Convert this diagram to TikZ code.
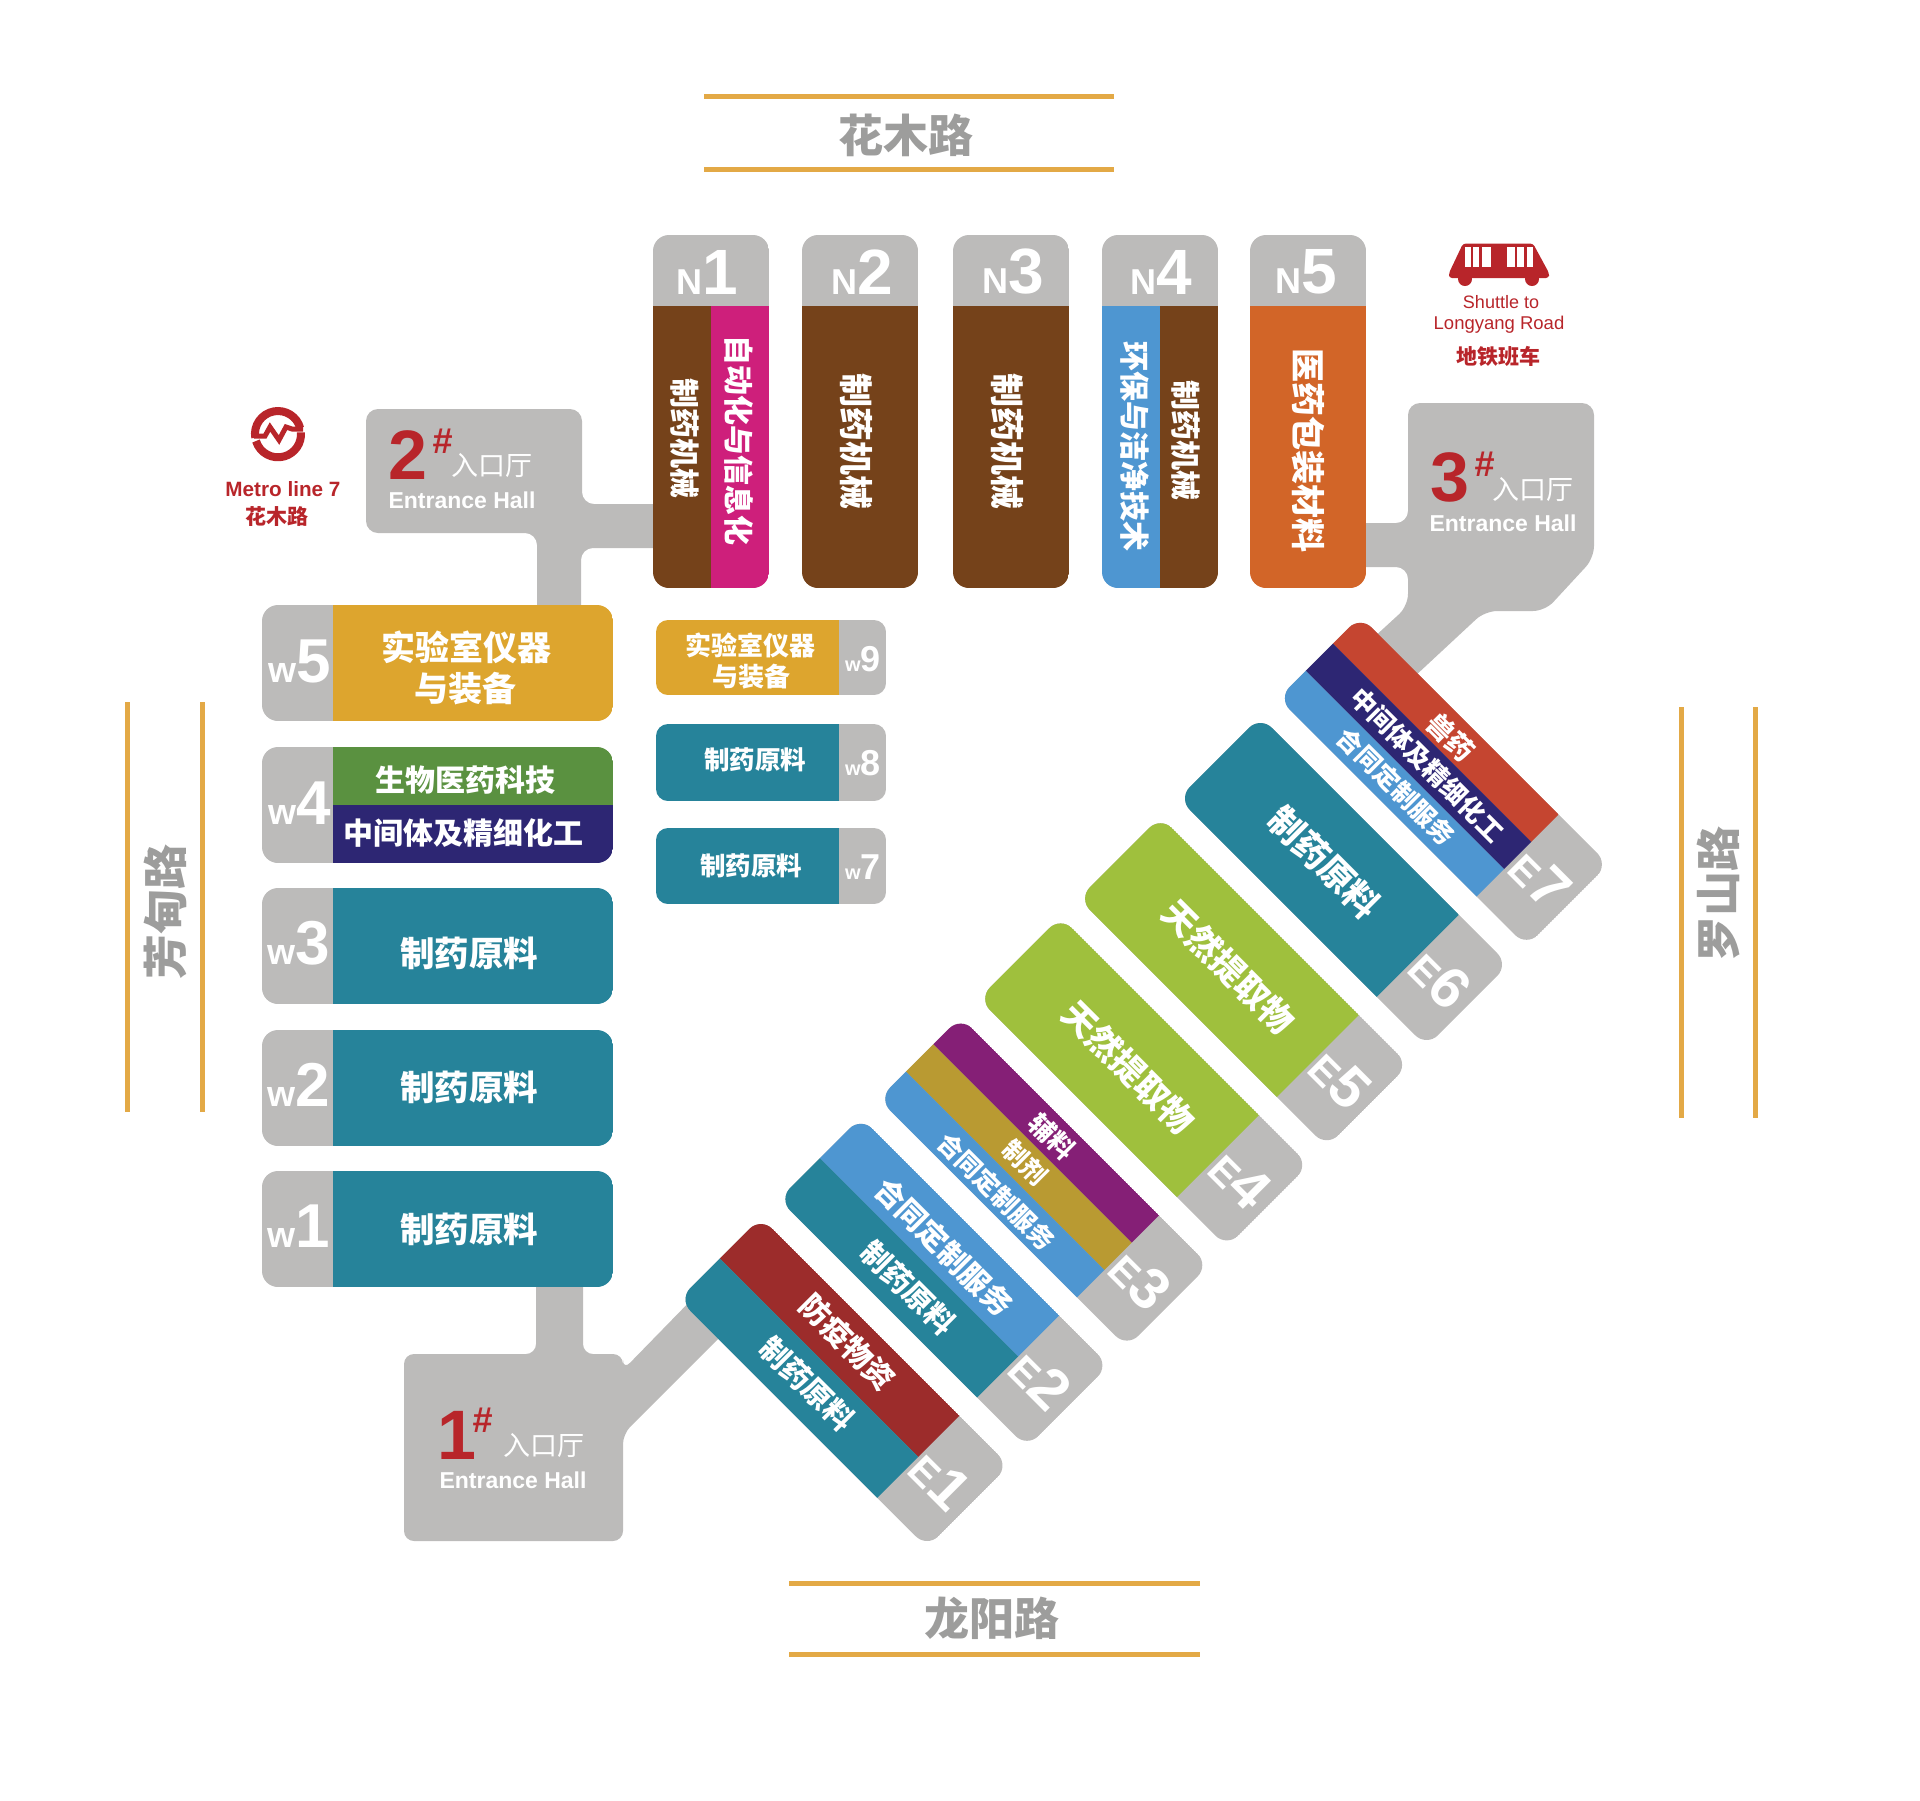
\documentclass[tikz,border=0pt]{standalone}
\usepackage{fontspec}
\setmainfont{Liberation Sans}
\newfontfamily\cjk{Noto Sans CJK SC}
\usepackage{xcolor}
\usepackage{tikz}
\definecolor{hallgrey}{HTML}{BCBBBA}
\definecolor{tealc}{HTML}{26839A}
\definecolor{brownc}{HTML}{75421A}
\definecolor{magentac}{HTML}{CE1F7B}
\definecolor{bluec}{HTML}{4E96D1}
\definecolor{orangec}{HTML}{D26528}
\definecolor{goldc}{HTML}{DDA52E}
\definecolor{greenc}{HTML}{5A9140}
\definecolor{navyc}{HTML}{2D2673}
\definecolor{limec}{HTML}{9FC03D}
\definecolor{darkredc}{HTML}{9C2C2B}
\definecolor{brickc}{HTML}{C54530}
\definecolor{purplec}{HTML}{851F76}
\definecolor{olivec}{HTML}{B99A32}
\definecolor{redc}{HTML}{B8252A}
\definecolor{roadc}{HTML}{E3A946}
\definecolor{roadtext}{HTML}{9D9D9C}
\newcommand{\fsz}[1]{\fontsize{#1}{#1}\selectfont}
\newcommand{\tagtext}[4]{{\fsz{#1}#3}{\fsz{#2}#4}}
\newcommand{\eclip}{\clip[rounded corners=16] (-175.5,-58) rectangle (175.5,58);
	\fill[hallgrey] (-175.5,-58) rectangle (175.5,58);}
\tikzset{
	cn/.style={text=white,inner sep=0pt,font=\cjk\bfseries\fsz{#1}},
	cnN/.style={cn=#1,rotate=-90},
	cnE/.style={cn=#1,rotate=-45},
	grouptag/.style={text=white,inner sep=0pt,font=\bfseries},
	etag/.style={grouptag,rotate=-45},
	roadline/.style={roadc,line width=5pt},
	roadname/.style={text=roadtext,inner sep=0pt,font=\cjk\bfseries\fsz{45}},
	halldigit/.style={text=redc,inner sep=0pt,font=\bfseries\fsz{70}},
	hallmark/.style={text=redc,inner sep=0pt,font=\bfseries\itshape\fsz{36}},
	hallcn/.style={text=white,inner sep=0pt,font=\cjk\fsz{27}},
	hallen/.style={text=white,inner sep=0pt,font=\bfseries\fsz{23}},
	redtext/.style={text=redc,inner sep=0pt},
	eblock/.style={shift={({844+99.9*(#1-1)},{1382.5-100.2*(#1-1)})},rotate=-45},
}
\begin{document}
\begin{tikzpicture}[x=1pt,y=-1pt]
	\useasboundingbox (0,0) rectangle (1920,1800);
	% roads
	\draw[roadline] (704,96) -- (1114,96);
	\draw[roadline] (704,169) -- (1114,169);
	\node[roadname] (road north) at (906,135) {花木路};
	\draw[roadline] (789,1583) -- (1200,1583);
	\draw[roadline] (789,1654) -- (1200,1654);
	\node[roadname] (road south) at (992,1618) {龙阳路};
	\draw[roadline] (127,702) -- (127,1112);
	\draw[roadline] (202,702) -- (202,1112);
	\node[roadname,rotate=90] (road west) at (165,912) {芳甸路};
	\draw[roadline] (1681,707) -- (1681,1118);
	\draw[roadline] (1755,707) -- (1755,1118);
	\node[roadname,rotate=90] (road east) at (1718,894) {罗山路};
	% halls
	\fill[hallgrey,rounded corners=12] (366,470) -- (366,409) -- (582,409) -- (582,504) -- (670,504) -- (670,548) -- (581,548) -- (581,625) -- (537,625) -- (537,533) -- (366,533) -- cycle;
	\fill[hallgrey,rounded corners=12] (1345,523) -- (1408,523) -- (1408,403) -- (1594,403) -- (1594,558) -- (1545,611) -- (1485,611) -- (1400,690) -- (1360,650) -- (1408,606) -- (1408,567) -- (1345,567) -- cycle;
	\fill[hallgrey,rounded corners=10] (536,1270) -- (536,1354) -- (404,1354) -- (404,1541) -- (623,1541) -- (623,1434) -- (735,1322) -- (700,1291) -- (623,1370) -- (623,1354) -- (583,1354) -- (583,1270) -- cycle;
	\node[halldigit] (hall2 num) at (408,455) {2};
	\node[hallmark] (hall2 mark) at (443,441) {\#};
	\node[hallcn] (hall2 cn) at (492,465) {入口厅};
	\node[hallen] (hall2 en) at (462,500) {Entrance Hall};
	\node[halldigit] (hall3 num) at (1450,477) {3};
	\node[hallmark] (hall3 mark) at (1484,464) {\#};
	\node[hallcn] (hall3 cn) at (1533,489) {入口厅};
	\node[hallen] (hall3 en) at (1503,523) {Entrance Hall};
	\node[halldigit] (hall1 num) at (457,1435) {1};
	\node[hallmark] (hall1 mark) at (483,1420) {\#};
	\node[hallcn] (hall1 cn) at (544,1445) {入口厅};
	\node[hallen] (hall1 en) at (513,1480) {Entrance Hall};
	% north row
	\begin{scope}
		\clip[rounded corners=16] (653,235) rectangle (769,588);
		\fill[hallgrey] (653,235) rectangle (769,306);
		\fill[brownc] (653,306) rectangle (711,588);
		\fill[magentac] (711,306) rectangle (769,588);
	\end{scope}
	\foreach \xl/\nm in {802/2,953/3}{
		\begin{scope}
			\clip[rounded corners=16] (\xl,235) rectangle (\xl+116,588);
			\fill[hallgrey] (\xl,235) rectangle (\xl+116,306);
			\fill[brownc] (\xl,306) rectangle (\xl+116,588);
		\end{scope}
		\node[cnN=34] (n\nm text) at (\xl+54,441) {制药机械};
		\node[grouptag] (n\nm tag) at (\xl+60,272) {\tagtext{36}{64}{N}{\nm}};
	}
	\begin{scope}
		\clip[rounded corners=16] (1102,235) rectangle (1218,588);
		\fill[hallgrey] (1102,235) rectangle (1218,306);
		\fill[bluec] (1102,306) rectangle (1160,588);
		\fill[brownc] (1160,306) rectangle (1218,588);
	\end{scope}
	\begin{scope}
		\clip[rounded corners=16] (1250,235) rectangle (1366,588);
		\fill[hallgrey] (1250,235) rectangle (1366,306);
		\fill[orangec] (1250,306) rectangle (1366,588);
	\end{scope}
	\node[grouptag] (n1 tag) at (707,272) {\tagtext{36}{64}{N}{1}};
	\node[grouptag] (n4 tag) at (1161,272) {\tagtext{36}{64}{N}{4}};
	\node[grouptag] (n5 tag) at (1306,272) {\tagtext{36}{64}{N}{5}};
	\node[cnN=30] (n1 text a) at (685,438) {制药机械};
	\node[cnN=30] (n1 text b) at (739,440) {自动化与信息化};
	\node[cnN=30] (n4 text a) at (1135,446) {环保与洁净技术};
	\node[cnN=30] (n4 text b) at (1186,440) {制药机械};
	\node[cnN=34] (n5 text) at (1308,450) {医药包装材料};
	% west row
	\begin{scope}
		\clip[rounded corners=16] (262,605) rectangle (613,721);
		\fill[hallgrey] (262,605) rectangle (333,721);
		\fill[goldc] (333,605) rectangle (613,721);
	\end{scope}
	\begin{scope}
		\clip[rounded corners=16] (262,747) rectangle (613,863);
		\fill[hallgrey] (262,747) rectangle (333,863);
		\fill[greenc] (333,747) rectangle (613,805);
		\fill[navyc] (333,805) rectangle (613,863);
	\end{scope}
	\foreach \yt/\nm/\yc in {888/3/953,1030/2/1087,1171/1/1229}{
		\begin{scope}
			\clip[rounded corners=16] (262,\yt) rectangle (613,\yt+116);
			\fill[hallgrey] (262,\yt) rectangle (333,\yt+116);
			\fill[tealc] (333,\yt) rectangle (613,\yt+116);
		\end{scope}
		\node[cn=34.5] (w\nm text) at (469,\yc) {制药原料};
		\node[grouptag] (w\nm tag) at (299,\yt+55) {\tagtext{36}{62}{w}{\nm}};
	}
	\node[grouptag] (w5 tag) at (300,661) {\tagtext{36}{62}{w}{5}};
	\node[grouptag] (w4 tag) at (300,803) {\tagtext{36}{62}{w}{4}};
	\node[cn=34] (w5 text a) at (466,647) {实验室仪器};
	\node[cn=34] (w5 text b) at (465,689) {与装备};
	\node[cn=30] (w4 text a) at (465,780) {生物医药科技};
	\node[cn=30] (w4 text b) at (463,833) {中间体及精细化工};
	% inner west row
	\begin{scope}
		\clip[rounded corners=12] (656,620) rectangle (886,695);
		\fill[hallgrey] (839,620) rectangle (886,695);
		\fill[goldc] (656,620) rectangle (839,695);
	\end{scope}
	\begin{scope}
		\clip[rounded corners=12] (656,724) rectangle (886,801);
		\fill[hallgrey] (839,724) rectangle (886,801);
		\fill[tealc] (656,724) rectangle (839,801);
	\end{scope}
	\begin{scope}
		\clip[rounded corners=12] (656,828) rectangle (886,904);
		\fill[hallgrey] (839,828) rectangle (886,904);
		\fill[tealc] (656,828) rectangle (839,904);
	\end{scope}
	\node[cn=26] (w9 text a) at (750,645) {实验室仪器};
	\node[cn=26] (w9 text b) at (751,677) {与装备};
	\node[cn=25.5] (w8 text) at (755,760) {制药原料};
	\node[cn=25.5] (w7 text) at (751,866) {制药原料};
	\node[grouptag] (w9 tag) at (863,659) {\tagtext{20}{36}{w}{9}};
	\node[grouptag] (w8 tag) at (863,763) {\tagtext{20}{36}{w}{8}};
	\node[grouptag] (w7 tag) at (863,867) {\tagtext{20}{36}{w}{7}};
	% east row
	\begin{scope}[eblock=1]
		\eclip
		\fill[darkredc] (-175.5,-58) rectangle (105,0);
		\fill[tealc] (-175.5,0) rectangle (105,58);
		\node[cnE=30] (e1 text a) at (-26,-31) {防疫物资};
		\node[cnE=29.5] (e1 text b) at (-25,27) {制药原料};
		\node[etag] (e1 tag) at (137,0) {\tagtext{40}{58}{E}{1}};
	\end{scope}
	\begin{scope}[eblock=2]
		\eclip
		\fill[bluec] (-175.5,-58) rectangle (105,0);
		\fill[tealc] (-175.5,0) rectangle (105,58);
		\node[cnE=30] (e2 text a) at (-25,-25) {合同定制服务};
		\node[cnE=29.5] (e2 text b) at (-21,29) {制药原料};
		\node[etag] (e2 tag) at (137,0) {\tagtext{40}{58}{E}{2}};
	\end{scope}
	\begin{scope}[eblock=3]
		\eclip
		\fill[purplec] (-175.5,-58) rectangle (105,-19.3);
		\fill[olivec] (-175.5,-19.3) rectangle (105,19.3);
		\fill[bluec] (-175.5,19.3) rectangle (105,58);
		\node[cnE=26] (e3 text a) at (-26,-38) {辅料};
		\node[cnE=25] (e3 text b) at (-27,-1) {制剂};
		\node[cnE=25.5] (e3 text c) at (-27,40) {合同定制服务};
		\node[etag] (e3 tag) at (137,0) {\tagtext{40}{58}{E}{3}};
	\end{scope}
	\begin{scope}[eblock=4]
		\eclip
		\fill[limec] (-175.5,-58) rectangle (105,58);
		\node[cnE=34] (e4 text) at (-21,0) {天然提取物};
		\node[etag] (e4 tag) at (137,0) {\tagtext{40}{58}{E}{4}};
	\end{scope}
	\begin{scope}[eblock=5]
		\eclip
		\fill[limec] (-175.5,-58) rectangle (105,58);
		\node[cnE=34] (e5 text) at (-21,0) {天然提取物};
		\node[etag] (e5 tag) at (137,0) {\tagtext{40}{58}{E}{5}};
	\end{scope}
	\begin{scope}[eblock=6]
		\eclip
		\fill[tealc] (-175.5,-58) rectangle (105,58);
		\node[cnE=35] (e6 text) at (-27,0) {制药原料};
		\node[etag] (e6 tag) at (137,0) {\tagtext{40}{58}{E}{6}};
	\end{scope}
	\begin{scope}[eblock=7]
		\eclip
		\fill[brickc] (-175.5,-58) rectangle (105,-19.3);
		\fill[navyc] (-175.5,-19.3) rectangle (105,19.3);
		\fill[bluec] (-175.5,19.3) rectangle (105,58);
		\node[cnE=27] (e7 text a) at (-26,-37) {兽药};
		\node[cnE=25.5] (e7 text b) at (-23,0) {中间体及精细化工};
		\node[cnE=25.5] (e7 text c) at (-30,37) {合同定制服务};
		\node[etag] (e7 tag) at (137,0) {\tagtext{40}{58}{E}{7}};
	\end{scope}
	% metro mark
	\draw[redc,line width=8pt] (255.3,438) arc[start angle=190,end angle=15,radius=23pt];
	\draw[redc,line width=8pt] (256,441) arc[start angle=197,end angle=365,radius=23pt];
	\draw[redc,line width=5pt] (254,436) -- (265,436) -- (270,427) -- (279,440) -- (286,427) -- (292,429) -- (303,429);
	\node[redtext,font=\bfseries\fsz{20.7}] (metro line) at (283,489) {Metro line 7};
	\node[redtext,font=\cjk\bfseries\fsz{21}] (metro stop) at (277,516) {花木路};
	% shuttle bus
	\fill[redc,rounded corners=3] (1463,243.5) -- (1533,243.5) -- (1549,273) -- (1549,278) -- (1449,278) -- (1449,273) -- cycle;
	\fill[redc] (1465,279) circle (7);
	\fill[redc] (1532,279) circle (7);
	\foreach \xa/\xb in {1465/1471,1472.7/1479.3,1481.7/1490.7,1506.7/1515,1517.3/1524,1526.7/1533.3}
		\fill[white] (\xa,247) rectangle (\xb,267);
	\node[redtext,font=\fsz{18}] (shuttle a) at (1501,302) {Shuttle to};
	\node[redtext,font=\fsz{18.5}] (shuttle b) at (1499,325) {Longyang Road};
	\node[redtext,font=\cjk\bfseries\fsz{21}] (shuttle c) at (1498,356) {地铁班车};
\end{tikzpicture}
\end{document}
